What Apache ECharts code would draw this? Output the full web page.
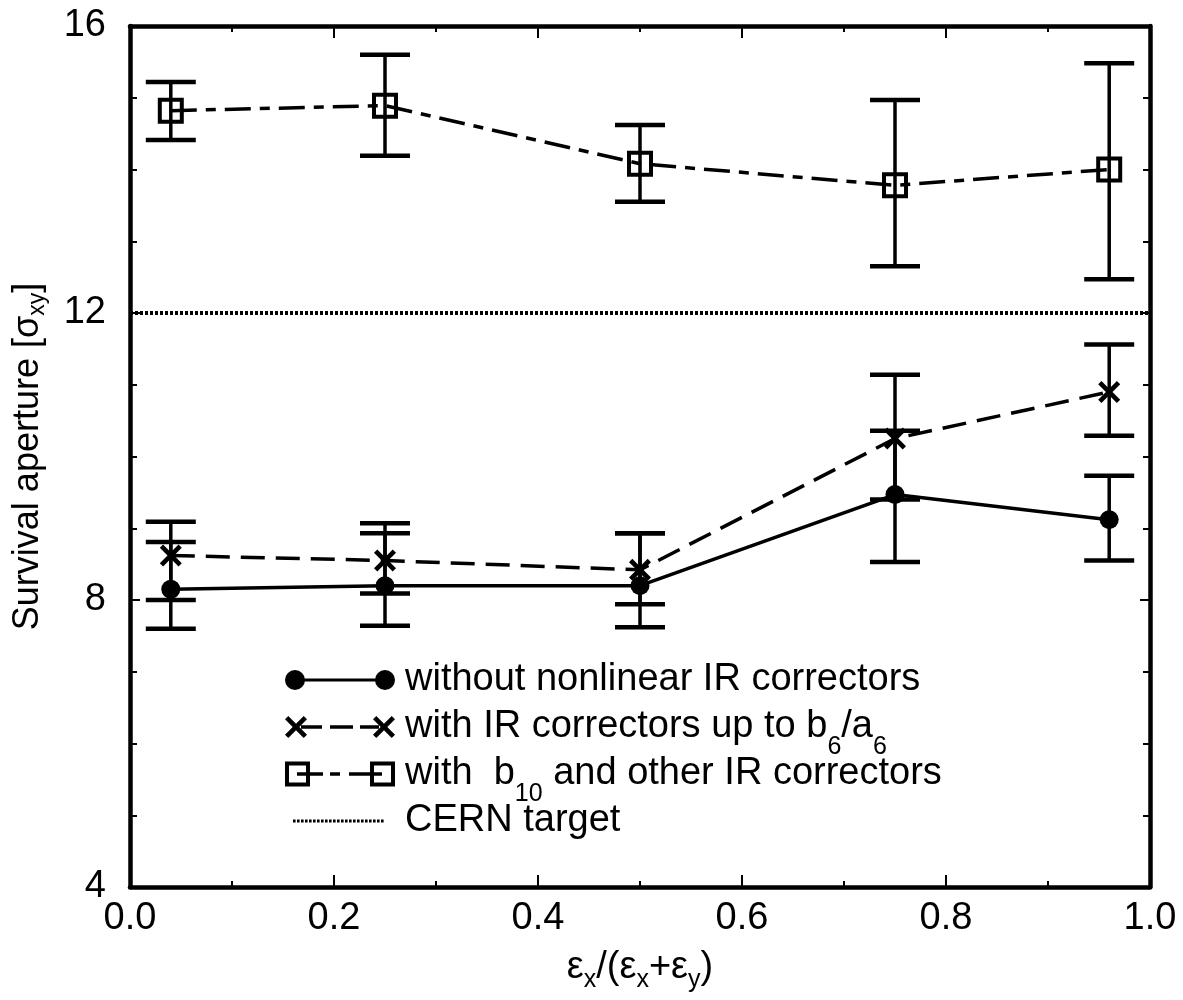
<!DOCTYPE html>
<html><head><meta charset="utf-8">
<script src="https://cdn.jsdelivr.net/npm/echarts@6/dist/echarts.min.js"></script>
<style>html,body{margin:0;padding:0;background:#fff}#c{width:1183px;height:1000px}</style>
</head><body><div id="c"></div><script>
// ---- data ----
const xValues = [0.04, 0.25, 0.5, 0.75, 0.96];
const noCorr = [8.15, 8.2, 8.2, 9.47, 9.12];
const noCorrLow = [7.60, 7.64, 7.62, 8.53, 8.55];
const noCorrHigh = [8.81, 8.93, 8.93, 10.36, 9.73];
const b6Corr = [8.62, 8.55, 8.42, 10.25, 10.9];
const b6CorrLow = [8.0, 8.09, 7.94, 9.4, 10.29];
const b6CorrHigh = [9.09, 9.07, 8.93, 11.14, 11.56];
const b10Corr = [14.82, 14.89, 14.08, 13.78, 14.0];
const b10CorrLow = [14.41, 14.19, 13.55, 12.65, 12.47];
const b10CorrHigh = [15.22, 15.6, 14.62, 14.97, 15.48];
const cernTarget = 12;
const seriesNames = ['without nonlinear IR correctors', 'with IR correctors up to b6/a6', 'with  b10 and other IR correctors', 'CERN target'];
const xTicks = [0, 0.2, 0.4, 0.6, 0.8, 1.0];
const yTicks = [4, 8, 12, 16];

// ---- helpers ----
const FF = '"Liberation Sans", Arial, Helvetica, sans-serif';
function pts(arr, ys) { return arr.map((x, i) => [x, ys[i]]); }
function errData(lo, hi) { return xValues.map((x, i) => [x, lo[i], hi[i]]); }
function rect(x1, y1, x2, y2) { return `M${x1},${y1}L${x2},${y1}L${x2},${y2}L${x1},${y2}Z`; }
function xShape(cx, cy, h, a) {
  const p = [[-1,-1+a],[-1+a,-1],[0,-a],[1-a,-1],[1,-1+a],[a,0],[1,1-a],[1-a,1],[0,a],[-1+a,1],[-1,1-a],[-a,0]];
  return 'M' + p.map(q => (cx + q[0]*h).toFixed(2) + ',' + (cy + q[1]*h).toFixed(2)).join('L') + 'Z';
}
function circ(cx, cy, r) { return `M${cx-r},${cy}A${r},${r},0,1,1,${cx+r},${cy}A${r},${r},0,1,1,${cx-r},${cy}Z`; }
function sq(x, y, s, t) { return rect(x, y, x+s, y+t) + rect(x, y+s-t, x+s, y+s) + rect(x, y, x+t, y+s) + rect(x+s-t, y, x+s, y+s); }
const anchors = 'M0,13L0.01,13L0.01,13.01ZM109.99,13L110,13L110,13.01Z';

const xMarker = 'path://' + xShape(50, 50, 50, 0.3);
const icons = [
  'path://' + circ(10, 13, 10) + circ(100, 13, 10) + rect(10, 11.5, 100, 14.5),
  'path://' + xShape(11, 13, 11, 0.3) + rect(16, 11.3, 37, 14.7) + rect(45, 11.3, 68, 14.7) + rect(75, 11.3, 94, 14.7) + xShape(99, 13, 11, 0.3),
  'path://' + sq(0, 0.5, 25, 4) + rect(12, 11.3, 38, 14.7) + rect(45, 11.3, 55, 14.7) + rect(64, 11.3, 97, 14.7) + sq(85, 0.5, 25, 4),
  'path://' + anchors + (function(){ let s=''; for (let x = 8; x < 98; x += 4) s += rect(x, 11.5, x + 2.6, 14.5); return s; })()
];
const legendLabels = {
  [seriesNames[0]]: '{m0|without nonlinear IR correctors}',
  [seriesNames[1]]: '{m0|with IR correctors up to b}{s|6}{m|/a}{s|6}',
  [seriesNames[2]]: '{m0|with  b}{s|10}{m| and other IR correctors}',
  [seriesNames[3]]: '{m0|CERN target}'
};
const legendRich = {
  m0: { fontSize: 38, fontFamily: FF, color: '#000', padding: [17, 0, 17, 5], verticalAlign: 'top' },
  m: { fontSize: 38, fontFamily: FF, color: '#000', padding: [17, 0, 17, 0], verticalAlign: 'top' },
  s: { fontSize: 25, fontFamily: FF, color: '#000', padding: [44, 0, 0, 0], verticalAlign: 'top' }
};

const legendTop0 = 661, legendStep = 47;
const legends = seriesNames.map((name, i) => ({
  data: [{ name: name, icon: icons[i], itemStyle: { color: '#000', borderWidth: 0, opacity: 1 } }],
  left: 285, top: legendTop0 + i * legendStep, orient: 'vertical', padding: 0,
  itemWidth: 110, itemHeight: 26, selectedMode: false,
  textStyle: { fontSize: 38, fontFamily: FF, color: '#000', rich: legendRich },
  formatter: n => legendLabels[n]
}));

const axisLineStyle = { color: '#000', width: 4.5 };
function xAx(pos, showLabel) {
  return {
    type: 'value', position: pos, min: 0, max: 1, interval: 0.2,
    axisLine: { show: true, onZero: false, lineStyle: axisLineStyle },
    axisTick: { show: true, inside: true, length: 12, lineStyle: { color: '#000', width: 2 } },
    minorTick: { show: true, splitNumber: 2, length: 6, lineStyle: { color: '#000', width: 2 } },
    splitLine: { show: false }, minorSplitLine: { show: false },
    axisLabel: { show: showLabel, fontSize: 38, fontFamily: FF, color: '#000', margin: 13,
      formatter: v => xTicks.some(t => Math.abs(t - v) < 1e-9) ? v.toFixed(1) : '' }
  };
}
function yAx(pos, showLabel) {
  return {
    type: 'value', position: pos, min: 4, max: 16, interval: 4,
    axisLine: { show: true, onZero: false, lineStyle: axisLineStyle },
    axisTick: { show: true, inside: true, length: 10, lineStyle: { color: '#000', width: 2 } },
    minorTick: { show: true, splitNumber: 4, length: 7, lineStyle: { color: '#000', width: 2 } },
    splitLine: { show: false }, minorSplitLine: { show: false },
    axisLabel: { show: showLabel, fontSize: 38, fontFamily: FF, color: '#000', margin: 24,
      formatter: v => yTicks.indexOf(v) >= 0 ? String(v) : '' }
  };
}
const xa = xAx('bottom', true);
xa.name = '{xn|ε}{xs|x}{xn|/(ε}{xs|x}{xn|+ε}{xs|y}{xn|)}';
xa.nameLocation = 'middle';
xa.nameGap = 54;
xa.nameTextStyle = { fontSize: 38, fontFamily: FF, color: '#000', rich: {
  xn: { fontSize: 38, fontFamily: FF, color: '#000', padding: [8, 0, 8, 0], verticalAlign: 'top' },
  xs: { fontSize: 25, fontFamily: FF, color: '#000', padding: [27, 0, 0, 0], verticalAlign: 'top' } } };
const ya = yAx('left', true);
ya.name = '{yn|Survival aperture [σ}{ys|xy}{yn|]}';
ya.nameLocation = 'middle';
ya.nameRotate = 90;
ya.nameGap = 76;
ya.nameTextStyle = { fontSize: 36, fontFamily: FF, color: '#000', rich: {
  yn: { fontSize: 36, fontFamily: FF, color: '#000', padding: [8, 0, 8, 0], verticalAlign: 'top' },
  ys: { fontSize: 23, fontFamily: FF, color: '#000', padding: [24, 0, 0, 0], verticalAlign: 'top' } } };

function errSeries(lo, hi) {
  return {
    type: 'custom', silent: true, xAxisIndex: 0, yAxisIndex: 0,
    data: errData(lo, hi), encode: { x: 0, y: [1, 2] }, z: 2,
    renderItem: function (params, api) {
      const x = api.value(0);
      const pLo = api.coord([x, api.value(1)]);
      const pHi = api.coord([x, api.value(2)]);
      const hw = 25;
      return { type: 'group', children: [
        { type: 'line', shape: { x1: pLo[0], y1: pLo[1], x2: pHi[0], y2: pHi[1] }, style: { stroke: '#000', lineWidth: 3.5 } },
        { type: 'line', shape: { x1: pLo[0] - hw, y1: pLo[1], x2: pLo[0] + hw, y2: pLo[1] }, style: { stroke: '#000', lineWidth: 4.5 } },
        { type: 'line', shape: { x1: pHi[0] - hw, y1: pHi[1], x2: pHi[0] + hw, y2: pHi[1] }, style: { stroke: '#000', lineWidth: 4.5 } }
      ] };
    }
  };
}

const option = {
  animation: false,
  backgroundColor: '#fff',
  grid: { left: 130, right: 33, top: 26, bottom: 113, containLabel: false },
  legend: legends,
  xAxis: [xa, xAx('top', false)],
  yAxis: [ya, yAx('right', false)],
  series: [
    errSeries(noCorrLow, noCorrHigh),
    errSeries(b6CorrLow, b6CorrHigh),
    errSeries(b10CorrLow, b10CorrHigh),
    { name: seriesNames[3], type: 'line', silent: true, symbol: 'none', z: 1,
      data: [[0, cernTarget], [1, cernTarget]],
      lineStyle: { color: '#000', width: 4, type: [3, 2] }, itemStyle: { color: '#000' } },
    { name: seriesNames[0], type: 'line', silent: true, data: pts(xValues, noCorr),
      symbol: 'circle', symbolSize: 19, z: 3,
      lineStyle: { color: '#000', width: 3.5, type: 'solid' },
      itemStyle: { color: '#000', borderWidth: 0 } },
    { name: seriesNames[1], type: 'line', silent: true, data: pts(xValues, b6Corr),
      symbol: xMarker, symbolSize: 22, z: 3,
      lineStyle: { color: '#000', width: 3.5, type: [24, 11] },
      itemStyle: { color: '#000', borderWidth: 0 } },
    { name: seriesNames[2], type: 'line', silent: true, data: pts(xValues, b10Corr),
      symbol: 'rect', symbolSize: 22, z: 3,
      lineStyle: { color: '#000', width: 3.5, type: [26, 9, 10, 9] },
      itemStyle: { color: 'rgba(0,0,0,0)', borderColor: '#000', borderWidth: 4 } }
  ]
};
const chart = echarts.init(document.getElementById('c'), null, { renderer: 'canvas' });
chart.setOption(option);
</script></body></html>
